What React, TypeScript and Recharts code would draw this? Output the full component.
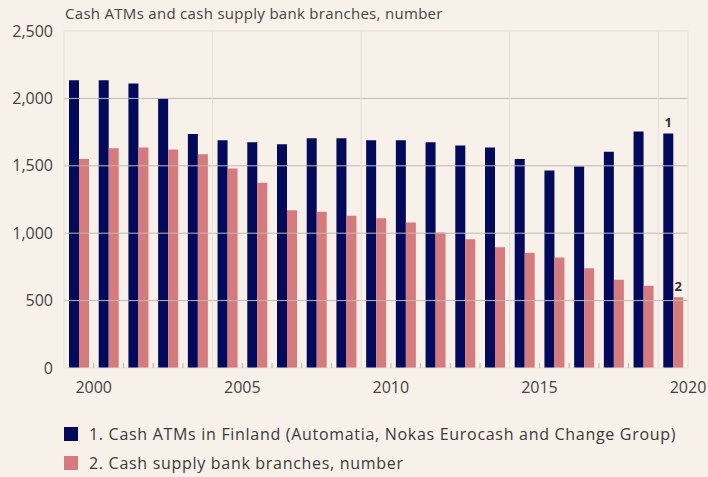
import React from "react";
import { BarChart, Bar, XAxis, YAxis, ReferenceLine, LabelList } from "recharts";

// year of each bar pair (values at year end)
const years = [1999, 2000, 2001, 2002, 2003, 2004, 2005, 2006, 2007, 2008, 2009, 2010, 2011, 2012, 2013, 2014, 2015, 2016, 2017, 2018, 2019];
const atms = [2135, 2135, 2110, 2000, 1735, 1690, 1675, 1660, 1705, 1705, 1690, 1690, 1675, 1650, 1635, 1550, 1465, 1495, 1605, 1755, 1740];
const branches = [1550, 1630, 1635, 1620, 1585, 1480, 1375, 1170, 1160, 1130, 1110, 1080, 1005, 955, 895, 855, 820, 740, 655, 610, 525];

const seriesNames = [
	"1. Cash ATMs in Finland (Automatia, Nokas Eurocash and Change Group)",
	"2. Cash supply bank branches, number",
];
const seriesTags = ["1", "2"];
const title = "Cash ATMs and cash supply bank branches, number";

const yTicks = [0, 500, 1000, 1500, 2000, 2500];
const yearTicks = [2000, 2001, 2002, 2003, 2004, 2005, 2006, 2007, 2008, 2009, 2010, 2011, 2012, 2013, 2014, 2015, 2016, 2017, 2018, 2019, 2020];
const labelYears = [2000, 2005, 2010, 2015, 2020];
const gridYears = [2004, 2009, 2014, 2019];

const NAVY = "#030a5c";
const PINK = "#d57b7d";
const BG = "#f8f1ea";
const FONT = "'Open Sans', sans-serif";
const LIGHT = "#e5ded6";
const GRID = "#bdb8b1";
const AXIS_H = 30;

const rows = years.map((year, i) => ({ year, atms: atms[i], branches: branches[i] }));

// recharts hands the tick the bottom of the axis band, so step back up to the baseline
const YearTick = (props: any) => {
	const { x, y, payload } = props;
	const yr = payload.value;
	const base = y - AXIS_H;
	return (
		<g>
			{!gridYears.includes(yr) && yr < 2020 && (
				<line x1={x} x2={x} y1={base - 5} y2={base} stroke="#b5b0aa" />
			)}
			{labelYears.includes(yr) && (
				<text x={x} y={base + 25} textAnchor="middle" fill="#444" fontSize={16} fontFamily={FONT}>
					{yr}
				</text>
			)}
		</g>
	);
};

const lastTag = (tag: string) => (props: any) => {
	const { x, y, width, index } = props;
	if (index !== years.length - 1) return null;
	return (
		<text x={x + width / 2} y={y - 6} textAnchor="middle" fill="#333" fontSize={13} fontWeight="bold" fontFamily={FONT}>
			{tag}
		</text>
	);
};

export default function App() {
	return (
		<div style={{ position: "absolute", left: 0, top: 0, width: 708, height: 477, background: BG, fontFamily: FONT, overflow: "hidden" }}>
			<div style={{ position: "absolute", left: 65, top: 3, fontSize: 15, letterSpacing: 0.3, color: "#444" }}>{title}</div>
			<BarChart width={708} height={398} data={rows} margin={{ top: 31, right: 20, bottom: 0, left: 0 }} barGap={0} barSize={10}>
				<XAxis xAxisId="cat" dataKey="year" type="category" hide />
				<XAxis
					xAxisId="yr"
					dataKey="year"
					type="number"
					domain={[1999, 2020]}
					allowDataOverflow
					ticks={yearTicks}
					interval={0}
					tickSize={0}
					tickMargin={0}
					axisLine={false}
					tickLine={false}
					height={AXIS_H}
					tick={<YearTick />}
				/>
				<YAxis
					domain={[0, 2500]}
					ticks={yTicks}
					width={64}
					axisLine={false}
					tickLine={false}
					tickMargin={5}
					tick={{ fill: "#444", fontSize: 16, fontFamily: FONT }}
					tickFormatter={(v: number) => v.toLocaleString("en-US")}
				/>
				{yTicks
					.filter((v) => v > 0 && v < 2500)
					.map((v) => (
						<ReferenceLine key={"h" + v} xAxisId="yr" y={v} stroke={GRID} strokeWidth={1} />
					))}
				{gridYears.map((yr) => (
					<ReferenceLine key={"v" + yr} xAxisId="yr" x={yr} stroke={LIGHT} strokeWidth={1} />
				))}
				<ReferenceLine xAxisId="yr" x={1999} stroke={LIGHT} />
				<ReferenceLine xAxisId="yr" x={2020} stroke={LIGHT} />
				<ReferenceLine xAxisId="yr" y={2500} stroke={LIGHT} />
				<ReferenceLine xAxisId="yr" y={0} stroke={LIGHT} />
				<Bar xAxisId="cat" dataKey="atms" fill={NAVY} isAnimationActive={false}>
					<LabelList dataKey="atms" content={lastTag(seriesTags[0])} />
				</Bar>
				<Bar xAxisId="cat" dataKey="branches" fill={PINK} isAnimationActive={false}>
					<LabelList dataKey="branches" content={lastTag(seriesTags[1])} />
				</Bar>
			</BarChart>
			<div style={{ position: "absolute", left: 64, top: 419, fontSize: 16, letterSpacing: 0.7, color: "#3a3a3a" }}>
				{seriesNames.map((name, i) => (
					<div key={name} style={{ display: "flex", alignItems: "center", height: 29, whiteSpace: "nowrap" }}>
						<span style={{ display: "inline-block", width: 14, height: 14, background: i === 0 ? NAVY : PINK, marginRight: 11 }} />
						{name}
					</div>
				))}
			</div>
		</div>
	);
}
